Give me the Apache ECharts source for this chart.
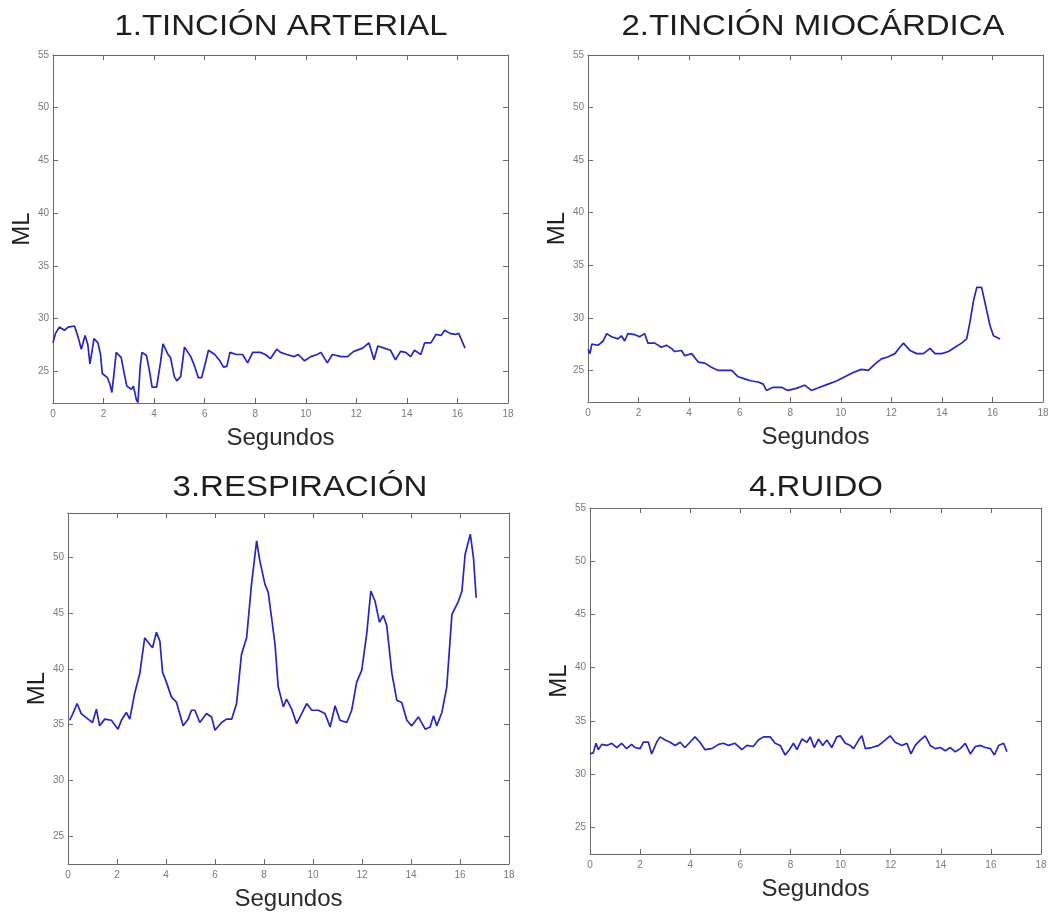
<!DOCTYPE html>
<html>
<head>
<meta charset="utf-8">
<script src="https://cdn.jsdelivr.net/npm/echarts@6/dist/echarts.min.js"></script>
<style>
html,body{margin:0;padding:0;background:#fff;}
#chart{width:1058px;height:913px;}
</style>
</head>
<body>
<div id="chart"></div>
<script>
// ---------- DATA ----------
const panelTitles = ['1.TINCIÓN ARTERIAL', '2.TINCIÓN MIOCÁRDICA', '3.RESPIRACIÓN', '4.RUIDO'];
const xTickLabels = [0, 2, 4, 6, 8, 10, 12, 14, 16, 18];
const yTickLabels = [25, 30, 35, 40, 45, 50, 55];

// 1. Tinción arterial
const arterialTime = [0,0.1,0.25,0.45,0.6,0.85,1.0,1.12,1.27,1.38,1.46,1.55,1.62,1.78,1.88,1.95,2.15,2.25,2.33,2.4,2.5,2.7,2.8,2.92,3.1,3.18,3.3,3.36,3.45,3.52,3.7,3.82,3.92,4.1,4.25,4.35,4.55,4.65,4.8,4.9,5.05,5.2,5.45,5.6,5.75,5.88,6.05,6.15,6.4,6.6,6.75,6.88,7.0,7.25,7.5,7.7,7.9,8.2,8.4,8.6,8.85,9.0,9.25,9.55,9.7,9.95,10.2,10.45,10.6,10.85,11.05,11.4,11.65,11.9,12.25,12.5,12.7,12.85,13.1,13.35,13.55,13.75,13.95,14.15,14.3,14.55,14.7,14.95,15.15,15.35,15.5,15.7,15.9,16.05,16.3];
const arterialML = [27.7,28.6,29.2,28.9,29.2,29.3,28.2,27.1,28.4,27.5,25.7,27.0,28.1,27.7,26.6,24.8,24.4,23.8,23.0,24.5,26.8,26.3,25.0,23.6,23.3,23.6,22.3,22.05,25.5,26.8,26.5,25.0,23.5,23.5,25.8,27.6,26.6,26.3,24.5,24.1,24.5,27.3,26.4,25.5,24.4,24.4,26.0,27.0,26.6,26.0,25.4,25.5,26.8,26.6,26.6,25.8,26.8,26.8,26.6,26.2,27.1,26.8,26.6,26.4,26.6,26.0,26.4,26.6,26.8,25.8,26.6,26.4,26.4,26.9,27.2,27.7,26.1,27.4,27.2,27.0,26.1,26.9,26.8,26.4,27.0,26.6,27.7,27.7,28.5,28.4,28.9,28.6,28.5,28.6,27.2];

// 2. Tinción miocárdica
const myoTime = [0,0.08,0.15,0.41,0.6,0.74,0.93,1.19,1.32,1.45,1.58,1.85,2.04,2.24,2.37,2.64,2.9,3.1,3.3,3.43,3.7,3.83,4.1,4.36,4.62,4.88,5.15,5.41,5.68,5.94,6.2,6.47,6.73,6.93,7.06,7.32,7.65,7.91,8.24,8.57,8.84,9.17,9.5,9.83,10.16,10.49,10.82,11.09,11.35,11.61,11.88,12.14,12.34,12.48,12.74,13.0,13.27,13.53,13.73,13.99,14.26,14.52,14.78,14.98,15.11,15.24,15.38,15.57,15.7,15.9,16.04,16.3];
const myoML = [27.0,26.6,27.5,27.4,27.8,28.5,28.2,28.0,28.3,27.8,28.5,28.4,28.2,28.5,27.6,27.6,27.2,27.4,27.1,26.8,26.9,26.4,26.6,25.8,25.7,25.3,25.0,25.0,25.0,24.4,24.2,24.0,23.9,23.7,23.1,23.4,23.4,23.1,23.3,23.6,23.1,23.4,23.7,24.0,24.4,24.8,25.1,25.0,25.6,26.1,26.3,26.6,27.2,27.6,26.9,26.6,26.6,27.1,26.6,26.6,26.8,27.2,27.6,28.0,29.6,31.5,32.9,32.9,31.5,29.3,28.3,28.0];

// 3. Respiración
const respTime = [0.07,0.2,0.37,0.54,0.82,1.0,1.16,1.29,1.5,1.77,2.04,2.18,2.38,2.52,2.72,2.93,3.13,3.34,3.45,3.61,3.75,3.86,4.02,4.22,4.43,4.7,4.9,5.04,5.18,5.38,5.65,5.86,6.0,6.27,6.47,6.68,6.88,7.08,7.29,7.49,7.7,7.83,8.04,8.17,8.31,8.45,8.58,8.79,8.92,9.13,9.33,9.54,9.74,9.95,10.22,10.49,10.7,10.9,11.1,11.38,11.58,11.78,11.99,12.19,12.36,12.53,12.71,12.87,13.01,13.22,13.42,13.62,13.83,14.03,14.3,14.58,14.78,14.92,15.05,15.26,15.46,15.67,15.94,16.08,16.21,16.42,16.55,16.66];
const respML = [35.4,36.0,36.9,36.0,35.5,35.2,36.4,34.9,35.5,35.4,34.6,35.4,36.1,35.5,37.8,39.6,42.8,42.2,41.9,43.3,42.5,39.7,38.8,37.5,37.0,34.9,35.5,36.3,36.3,35.2,36.0,35.7,34.5,35.2,35.5,35.5,36.9,41.3,42.8,47.6,51.5,49.7,47.6,46.9,44.6,42.2,38.4,36.6,37.3,36.4,35.1,36.0,36.9,36.3,36.3,36.0,34.8,36.7,35.4,35.2,36.3,38.8,39.9,43.1,47.0,46.1,44.2,44.8,43.9,39.6,37.2,37.0,35.4,34.9,35.7,34.6,34.8,35.8,34.9,36.1,38.4,44.9,46.1,47.0,50.3,52.1,50.0,46.4];

// 4. Ruido
const noiseTime = [0,0.13,0.24,0.33,0.47,0.67,0.87,1.07,1.26,1.46,1.66,1.8,2.0,2.13,2.33,2.46,2.66,2.8,3.0,3.2,3.4,3.6,3.79,3.99,4.19,4.39,4.59,4.86,5.13,5.33,5.53,5.79,6.06,6.26,6.52,6.72,6.92,7.19,7.39,7.59,7.79,7.96,8.12,8.26,8.46,8.66,8.79,8.95,9.12,9.29,9.45,9.65,9.85,9.99,10.19,10.39,10.52,10.72,10.85,10.99,11.25,11.52,11.78,11.98,12.18,12.45,12.65,12.81,12.98,13.18,13.38,13.58,13.78,13.98,14.18,14.38,14.58,14.78,14.98,15.18,15.38,15.58,15.78,15.98,16.14,16.31,16.51,16.64];
const noiseML = [31.9,32.0,32.9,32.3,32.8,32.7,32.9,32.5,32.9,32.4,32.8,32.5,32.4,33.0,33.0,31.9,33.0,33.5,33.2,33.0,32.7,33.0,32.5,33.0,33.5,33.0,32.3,32.4,32.8,32.9,32.7,32.9,32.3,32.7,32.6,33.2,33.5,33.5,32.9,32.7,31.8,32.3,32.9,32.3,33.3,33.0,33.5,32.5,33.3,32.7,33.2,32.5,33.5,33.6,32.9,32.7,32.4,33.2,33.6,32.4,32.5,32.7,33.2,33.6,33.0,32.7,32.9,31.9,32.7,33.2,33.6,32.7,32.4,32.5,32.2,32.5,32.1,32.4,32.9,31.9,32.6,32.7,32.5,32.4,31.8,32.7,32.9,32.1];

// ---------- LAYOUT / STYLE ----------
const grids = [
  {left: 53, top: 55, width: 455, height: 348, ymin: 22, ymax: 55, mlGap: 18},
  {left: 588, top: 55, width: 455, height: 347, ymin: 22, ymax: 55, mlGap: 18},
  {left: 68, top: 513, width: 441, height: 351, ymin: 22.5, ymax: 54, mlGap: 15},
  {left: 590, top: 508, width: 451, height: 346, ymin: 22.5, ymax: 55, mlGap: 18}
];
const seriesTimes = [arterialTime, myoTime, respTime, noiseTime];
const seriesValues = [arterialML, myoML, respML, noiseML];

const FONT = '"Liberation Sans", Arial, sans-serif';
const boxColor = '#6a6a6a';
const tickLabelColor = '#7a7a7a';
const lineColor = '#2525c0';

const option = {
  backgroundColor: '#ffffff',
  animation: false,
  graphic: [],
  grid: [],
  xAxis: [],
  yAxis: [],
  series: []
};

// title anchor: [center x, vertical middle y]
const titleAnchors = [[281, 27], [813, 27], [300, 488], [816, 488]];

grids.forEach((g, i) => {
  option.grid.push({left: g.left, top: g.top, width: g.width, height: g.height, containLabel: false});
  option.graphic.push({
    type: 'text',
    x: titleAnchors[i][0], y: titleAnchors[i][1],
    scaleX: 1.1, scaleY: 1,
    style: {
      x: 0, y: 0,
      text: panelTitles[i],
      font: 'normal 30px ' + FONT,
      fill: '#1e1e1e',
      textAlign: 'center', textVerticalAlign: 'middle'
    }
  });
  const yLabels = yTickLabels.filter(v => v >= g.ymin && v <= g.ymax);
  // bottom x axis
  option.xAxis.push({
    type: 'value', gridIndex: i, position: 'bottom', min: 0, max: 18, interval: 2,
    name: 'Segundos', nameLocation: 'middle', nameGap: 23,
    nameTextStyle: {fontFamily: FONT, fontSize: 24, color: '#2a2a2a'},
    axisLine: {show: true, onZero: false, lineStyle: {color: boxColor, width: 1}},
    axisTick: {show: true, inside: true, length: 5, lineStyle: {color: boxColor}},
    axisLabel: {show: true, fontFamily: FONT, fontSize: 10, color: tickLabelColor, margin: 6,
      customValues: xTickLabels},
    splitLine: {show: false}
  });
  // top x axis (box)
  option.xAxis.push({
    type: 'value', gridIndex: i, position: 'top', min: 0, max: 18, interval: 2,
    axisLine: {show: true, onZero: false, lineStyle: {color: boxColor, width: 1}},
    axisTick: {show: true, inside: true, length: 5, lineStyle: {color: boxColor}},
    axisLabel: {show: false},
    splitLine: {show: false}
  });
  // left y axis
  option.yAxis.push({
    type: 'value', gridIndex: i, position: 'left', min: g.ymin, max: g.ymax,
    name: 'ML', nameLocation: 'middle', nameRotate: 90, nameGap: g.mlGap,
    nameTextStyle: {fontFamily: FONT, fontSize: 24, color: '#1e1e1e'},
    axisLine: {show: true, onZero: false, lineStyle: {color: boxColor, width: 1}},
    axisTick: {show: true, inside: true, length: 5, lineStyle: {color: boxColor}, customValues: yLabels},
    axisLabel: {show: true, fontFamily: FONT, fontSize: 10, color: tickLabelColor, margin: 4, customValues: yLabels},
    splitLine: {show: false}
  });
  // right y axis (box)
  option.yAxis.push({
    type: 'value', gridIndex: i, position: 'right', min: g.ymin, max: g.ymax,
    axisLine: {show: true, onZero: false, lineStyle: {color: boxColor, width: 1}},
    axisTick: {show: true, inside: true, length: 5, lineStyle: {color: boxColor}, customValues: yLabels},
    axisLabel: {show: false},
    splitLine: {show: false}
  });
  option.series.push({
    type: 'line',
    name: panelTitles[i],
    xAxisIndex: i * 2, yAxisIndex: i * 2,
    data: seriesTimes[i].map((t, k) => [t, seriesValues[i][k]]),
    showSymbol: false, symbol: 'none',
    lineStyle: {color: lineColor, width: 1.7},
    clip: true
  });
});

const chart = echarts.init(document.getElementById('chart'), null, {renderer: 'canvas'});
chart.setOption(option);
</script>
</body>
</html>
